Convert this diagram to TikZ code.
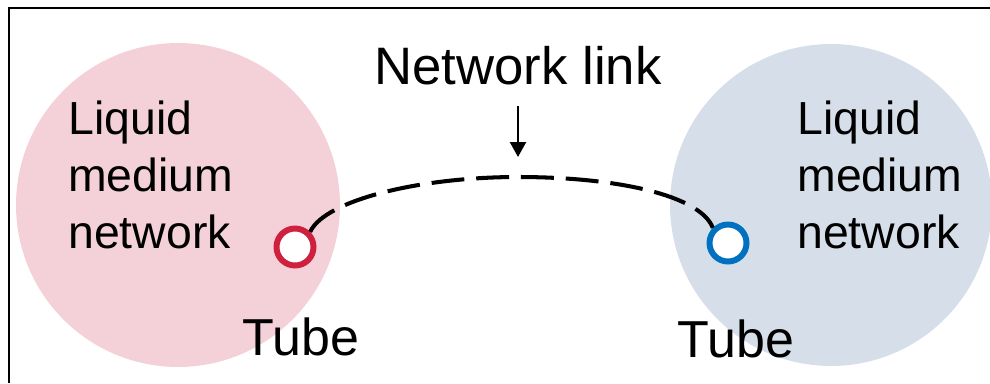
\documentclass[tikz,border=0pt]{standalone}
\usepackage{fontspec}
\setmainfont{Liberation Sans}
\usetikzlibrary{arrows.meta}
\definecolor{mediumred}{RGB}{244,209,216}
\definecolor{mediumblue}{RGB}{214,223,233}
\definecolor{tubered}{RGB}{207,32,62}
\definecolor{tubeblue}{RGB}{0,112,192}

\begin{document}
\begin{tikzpicture}[x=0.02cm,y=-0.02cm,
        tube/.style={circle, draw, line width=3.4pt, fill=white, minimum size=0.74cm, inner sep=0pt},
        mediumtext/.style={anchor=base west, align=left, inner sep=0pt, font=\fontsize{26.4pt}{32.3pt}\selectfont},
        tubetext/.style={anchor=base west, inner sep=0pt, font=\fontsize{29.6pt}{35pt}\selectfont},
        link/.style={line width=2.3pt, dash pattern=on 18.7pt off 6.8pt}]
        \useasboundingbox (0,0) rectangle (990,383);

        % the two liquid media
        \fill[mediumred] (178,205) circle[radius=3.24cm];
        \fill[mediumblue] (831,205) circle[radius=3.22cm];

        \draw[line width=1.5pt] (9,383) -- (9,8) -- (990,8);

        % base is the last line of the text
        \node[mediumtext] (leftmedium) at (68,248) {Liquid\\medium\\network};
        \node[mediumtext] (rightmedium) at (797,248) {Liquid\\medium\\network};

        \node[tube, draw=tubered] (tubeL) at (295,247) {};
        \node[tube, draw=tubeblue] (tubeR) at (728,243) {};
        \node[tubetext] (tubeLtext) at (242,355) {Tube};
        \node[tubetext] (tubeRtext) at (677,357) {Tube};

        \coordinate (peak) at (518,177);
        \draw[link] (tubeL.45) .. controls (325,200) and (420,177) .. (peak) .. controls (616,177) and (700,195) .. (tubeR.135);

        \node[anchor=base, inner sep=0pt, font=\fontsize{30pt}{36pt}\selectfont] (linklabel) at (518,84) {Network link};
        \draw[line width=1.5pt, -{Triangle[width=9pt,length=8.5pt]}, shorten <=0.42cm, shorten >=0.4cm] (linklabel) -- (peak);
\end{tikzpicture}
\end{document}
